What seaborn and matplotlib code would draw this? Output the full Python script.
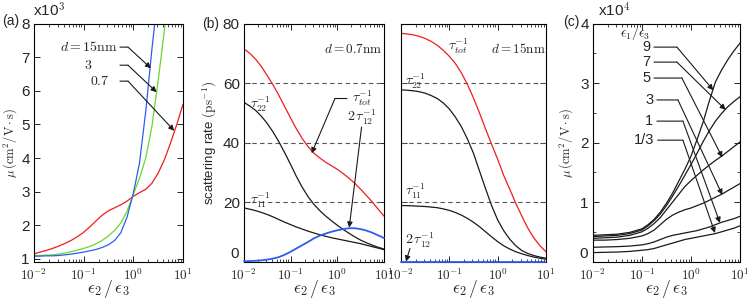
import numpy as np
import pandas as pd
import seaborn as sns
import matplotlib.pyplot as plt
from matplotlib.ticker import FuncFormatter, LogLocator, MultipleLocator, NullFormatter

# ---- data ----
# x positions, eps2/eps3 (1/8 decade steps)
x_grid = [0.01, 0.0133, 0.0178, 0.0237, 0.0316, 0.0422, 0.0562, 0.075, 0.1, 0.133, 0.178,
          0.237, 0.316, 0.422, 0.562, 0.75, 1.0, 1.33, 1.78, 2.37, 3.16, 4.22, 5.62, 7.5, 10.0]

# (a) mobility, units of 10^3 cm^2/Vs
a_d07 = [1.15, 1.2, 1.25, 1.31, 1.38, 1.46, 1.55, 1.66, 1.79, 1.95, 2.13, 2.3, 2.43,
         2.52, 2.61, 2.72, 2.86, 2.97, 3.07, 3.25, 3.55, 3.95, 4.45, 5.0, 5.6]
a_d3 = [1.1, 1.1, 1.11, 1.12, 1.14, 1.17, 1.21, 1.26, 1.31, 1.37, 1.45, 1.55, 1.68,
        1.85, 2.07, 2.42, 2.92, 3.4, 4.0, 4.95, 6.3, 7.8, 9.5, 11.0, 12.5]
a_d15 = [1.08, 1.08, 1.09, 1.09, 1.1, 1.12, 1.14, 1.17, 1.2, 1.24, 1.28, 1.34, 1.42,
         1.55, 1.78, 2.25, 2.95, 3.85, 5.4, 7.25, 8.9, 10.5, 12.0, 13.5, 15.0]

# (b) scattering rates, ps^-1, d = 0.7 nm
b07_tot = [71.5, 70.0, 68.0, 65.5, 62.5, 59.3, 55.8, 52.0, 48.2, 44.6, 41.3, 38.6, 36.4,
           34.8, 33.4, 32.2, 31.0, 29.6, 28.0, 26.3, 24.3, 22.2, 20.0, 17.6, 15.3]
b07_t22 = [53.5, 52.3, 50.8, 48.8, 46.4, 43.5, 40.2, 36.5, 32.6, 28.6, 24.9, 21.8, 19.2,
           17.1, 15.3, 13.7, 12.2, 10.8, 9.5, 8.3, 7.2, 6.3, 5.5, 4.8, 4.2]
b07_t11 = [18.0, 17.6, 17.1, 16.5, 15.8, 15.0, 14.1, 13.2, 12.4, 11.6, 10.9, 10.2, 9.6,
           9.0, 8.5, 8.0, 7.6, 7.2, 6.8, 6.4, 6.0, 5.5, 5.0, 4.5, 4.0]
b07_t12 = [0.1, 0.15, 0.25, 0.4, 0.65, 1.0, 1.5, 2.3, 3.3, 4.4, 5.5, 6.6, 7.8,
           8.7, 9.4, 10.0, 10.5, 10.9, 11.2, 11.2, 10.9, 10.4, 9.7, 8.8, 7.9]

# d = 15 nm
b15_tot = [76.7, 76.5, 76.2, 75.7, 75.0, 74.0, 72.7, 71.0, 69.0, 66.6, 63.4, 59.5, 55.0,
           49.9, 44.6, 39.4, 34.4, 29.0, 24.3, 19.6, 15.3, 11.2, 7.9, 5.3, 3.3]
b15_t22 = [57.7, 57.6, 57.4, 57.1, 56.6, 55.8, 54.8, 53.3, 51.3, 48.6, 45.3, 41.2, 36.4,
           30.4, 24.5, 18.8, 14.0, 10.4, 7.5, 5.3, 3.7, 2.7, 2.0, 1.5, 1.1]
b15_t11 = [18.8, 18.8, 18.7, 18.6, 18.5, 18.3, 18.1, 17.7, 17.2, 16.5, 15.6, 14.5, 13.2,
           11.7, 10.0, 8.3, 6.7, 5.3, 4.2, 3.3, 2.6, 2.0, 1.5, 1.1, 0.8]
b15_t12 = [0.0] * 25

# (c) mobility for several eps1/eps3, units of 10^4 cm^2/Vs
c_x = [0.01, 0.0178, 0.0316, 0.0562, 0.1, 0.133, 0.178, 0.237, 0.316, 0.422, 0.562,
       0.75, 1.0, 1.33, 1.78, 2.37, 3.16, 4.22, 5.62, 7.5, 10.0]
c_ratios = ['9', '7', '5', '3', '1', '1/3']
c_mu = {
    '9':   [0.44, 0.45, 0.46, 0.49, 0.55, 0.62, 0.71, 0.83, 0.98, 1.15, 1.35, 1.55, 1.77,
            2.05, 2.35, 2.7, 3.02, 3.22, 3.39, 3.54, 3.67],
    '7':   [0.42, 0.43, 0.44, 0.47, 0.53, 0.60, 0.69, 0.80, 0.94, 1.10, 1.27, 1.45, 1.63,
            1.82, 2.02, 2.2, 2.36, 2.49, 2.6, 2.69, 2.77],
    '5':   [0.39, 0.40, 0.41, 0.44, 0.50, 0.56, 0.64, 0.74, 0.87, 1.0, 1.13, 1.26, 1.36,
            1.45, 1.54, 1.62, 1.7, 1.77, 1.85, 1.93, 2.01],
    '3':   [0.36, 0.36, 0.37, 0.39, 0.43, 0.47, 0.53, 0.62, 0.71, 0.78, 0.83, 0.87, 0.9,
            0.94, 0.98, 1.03, 1.08, 1.13, 1.19, 1.25, 1.31],
    '1':   [0.24, 0.245, 0.25, 0.26, 0.28, 0.30, 0.33, 0.37, 0.41, 0.44, 0.46, 0.48, 0.5,
            0.52, 0.55, 0.58, 0.62, 0.66, 0.69, 0.72, 0.76],
    '1/3': [0.15, 0.155, 0.16, 0.17, 0.19, 0.20, 0.22, 0.25, 0.28, 0.31, 0.34, 0.37, 0.39,
            0.41, 0.43, 0.45, 0.47, 0.5, 0.53, 0.56, 0.6],
}

RED, GREEN, BLUE, BLACK = '#f01c1c', '#6ad82a', '#2a5ef0', '#1a1a1a'

sns.set_style('ticks')
plt.rcParams['font.family'] = ['Liberation Sans', 'DejaVu Sans']
plt.rcParams['mathtext.fontset'] = 'cm'
plt.rcParams.update({
    'xtick.direction': 'in', 'ytick.direction': 'in',
    'xtick.top': True, 'ytick.right': True,
    'xtick.major.size': 4, 'ytick.major.size': 4,
    'xtick.minor.size': 2, 'ytick.minor.size': 2,
    'xtick.major.width': 0.7, 'ytick.major.width': 0.7,
    'xtick.minor.width': 0.6, 'ytick.minor.width': 0.6,
    'axes.linewidth': 0.8, 'axes.edgecolor': 'black',
    'xtick.labelsize': 9.5, 'ytick.labelsize': 11,
    'xtick.major.pad': 4, 'ytick.major.pad': 3,
})

fig = plt.figure(figsize=(7.47, 3.02), dpi=100)
bot, hgt = 0.134, 0.788
ax_a = fig.add_axes([0.0455, bot, 0.1995, hgt])
ax_b1 = fig.add_axes([0.3266, bot, 0.1874, hgt])
ax_b2 = fig.add_axes([0.5368, bot, 0.1941, hgt])
ax_c = fig.add_axes([0.7938, bot, 0.1968, hgt])

xlab = r'$\epsilon_2\,/\,\epsilon_3$'
mulab = r'$\mu\,(\mathrm{cm^2/V\cdot s})$'
arrow_kw = dict(arrowstyle='-|>', lw=0.8, color=BLACK, mutation_scale=8, shrinkA=0, shrinkB=0)


def log_axis(ax):
    ax.set_xscale('log')
    ax.set_xlim(0.01, 10)
    ax.xaxis.set_major_locator(LogLocator(base=10, numticks=10))
    ax.xaxis.set_minor_locator(LogLocator(base=10, subs=np.arange(2, 10), numticks=10))
    ax.xaxis.set_minor_formatter(NullFormatter())
    ax.xaxis.set_major_formatter(FuncFormatter(lambda v, p: r'$\mathsf{10^{%d}}$' % round(np.log10(v))))
    ax.set_xlabel(xlab, fontsize=12.5, labelpad=-3)


def raised_zero(ax):
    # the "0" label sits a little above its tick in the original
    ax.yaxis.set_major_formatter(FuncFormatter(lambda v, p: '' if v == 0 else f'{v:g}'))
    ax.text(-0.035, 0.03, '0', transform=ax.transAxes, ha='right', va='center', fontsize=11)


def callout(ax, label, txy, x0, x1, target, ha='right', fs=10):
    ax.text(txy[0], txy[1], label, transform=ax.transAxes, ha=ha, va='center', fontsize=fs)
    ax.annotate('', xy=(x1, txy[1]), xytext=(x0, txy[1]), xycoords='axes fraction',
                arrowprops=dict(arrowstyle='-', lw=0.8, color=BLACK, shrinkA=0, shrinkB=0))
    ax.annotate('', xy=target, xycoords='data', xytext=(x1, txy[1]), textcoords='axes fraction',
                arrowprops=arrow_kw)


# ---- (a) ----
da = pd.DataFrame({'x': x_grid, '0.7': a_d07, '3': a_d3, '15': a_d15})
for col, c in [('0.7', RED), ('3', GREEN), ('15', BLUE)]:
    sns.lineplot(data=da, x='x', y=col, ax=ax_a, color=c, lw=0.9)
log_axis(ax_a)
ax_a.set_ylim(0.92, 8)
ax_a.yaxis.set_major_locator(MultipleLocator(1))
ax_a.set_ylabel(mulab, fontsize=9, labelpad=2)
callout(ax_a, r'$d\mathrm{=15nm}$', (0.564, 0.901), 0.577, 0.631, (2.26, 6.67), fs=10)
callout(ax_a, r'$\mathrm{3}$', (0.39, 0.825), 0.577, 0.631, (2.94, 5.96), fs=10)
callout(ax_a, r'$\mathrm{0.7}$', (0.51, 0.758), 0.577, 0.631, (6.65, 4.81), fs=10)
fig.text(33 / 747, 1 - 11 / 302, r'x10$^{\mathsf{3}}$', fontsize=11, va='center')
fig.text(2 / 747, 1 - 21 / 302, '(a)', fontsize=10, va='center')

# ---- (b) ----
for ax, tot, t22, t11, t12 in [(ax_b1, b07_tot, b07_t22, b07_t11, b07_t12),
                              (ax_b2, b15_tot, b15_t22, b15_t11, b15_t12)]:
    db = pd.DataFrame({'x': x_grid, 'tot': tot, 't22': t22, 't11': t11, 't12': t12})
    for yv in (20, 40, 60):
        ax.axhline(yv, color='#555555', lw=0.8, ls=(0, (4, 3)), zorder=1)
    sns.lineplot(data=db, x='x', y='t22', ax=ax, color=BLACK, lw=0.9)
    sns.lineplot(data=db, x='x', y='t11', ax=ax, color=BLACK, lw=0.9)
    sns.lineplot(data=db, x='x', y='tot', ax=ax, color=RED, lw=0.9)
    sns.lineplot(data=db, x='x', y='t12', ax=ax, color=BLUE, lw=1.3)
    ax.lines[-1].set_clip_on(False)
    ax.lines[-1].set_zorder(3)
    log_axis(ax)
    ax.set_ylim(0, 80)
    ax.yaxis.set_major_locator(MultipleLocator(20))

ax_b1.set_ylabel(r'scattering rate $(\mathrm{ps}^{-1})$', fontsize=9.5, labelpad=3)
raised_zero(ax_b1)
ax_b2.set_ylabel('')
ax_b2.set_yticklabels([])

tau_fs = 10
ax_b1.text(0.779, 0.893, r'$d\mathrm{=0.7nm}$', transform=ax_b1.transAxes, ha='center', va='center', fontsize=9.5)
ax_b1.text(0.114, 0.66, r'$\tau_{22}^{\mathsf{-1}}$', transform=ax_b1.transAxes, ha='center', va='center', fontsize=tau_fs)
ax_b1.text(0.114, 0.255, r'$\tau_{11}^{\mathsf{-1}}$', transform=ax_b1.transAxes, ha='center', va='center', fontsize=tau_fs)
callout(ax_b1, r'$\tau_{tot}^{\mathsf{-1}}$', (0.77, 0.685), 0.736, 0.65, (0.282, 36.4), ha='left', fs=tau_fs)
ax_b1.text(0.84, 0.605, r'$2\,\tau_{12}^{\mathsf{-1}}$', transform=ax_b1.transAxes, ha='center', va='center', fontsize=tau_fs)
ax_b1.annotate('', xy=(1.8, 11.4), xycoords='data', xytext=(0.84, 0.565), textcoords='axes fraction',
               arrowprops=arrow_kw)
fig.text(202 / 747, 1 - 24 / 302, '(b)', fontsize=10, va='center')

ax_b2.text(0.393, 0.905, r'$\tau_{tot}^{\mathsf{-1}}$', transform=ax_b2.transAxes, ha='center', va='center', fontsize=tau_fs)
ax_b2.text(0.807, 0.893, r'$d\mathrm{=15nm}$', transform=ax_b2.transAxes, ha='center', va='center', fontsize=9.5)
ax_b2.text(0.10, 0.755, r'$\tau_{22}^{\mathsf{-1}}$', transform=ax_b2.transAxes, ha='center', va='center', fontsize=tau_fs)
ax_b2.text(0.10, 0.295, r'$\tau_{11}^{\mathsf{-1}}$', transform=ax_b2.transAxes, ha='center', va='center', fontsize=tau_fs)
ax_b2.text(0.13, 0.09, r'$2\,\tau_{12}^{\mathsf{-1}}$', transform=ax_b2.transAxes, ha='center', va='center', fontsize=tau_fs)
ax_b2.annotate('', xy=(0.0127, 0.0), xycoords='data', xytext=(0.062, 0.055), textcoords='axes fraction',
               arrowprops=arrow_kw)

# ---- (c) ----
dc = pd.DataFrame({'x': c_x, **c_mu})
for r in c_ratios:
    sns.lineplot(data=dc, x='x', y=r, ax=ax_c, color=BLACK, lw=0.9)
log_axis(ax_c)
ax_c.set_ylim(0, 4)
ax_c.yaxis.set_major_locator(MultipleLocator(1))
ax_c.yaxis.set_minor_locator(MultipleLocator(0.5))
raised_zero(ax_c)
ax_c.set_ylabel(mulab, fontsize=9, labelpad=4)
ax_c.text(0.286, 0.96, r'$\epsilon_1/\epsilon_3$', transform=ax_c.transAxes, ha='center', va='center', fontsize=10)
c_calls = [('9', 0.901, 0.415, 0.571, (2.85, 2.88)),
           ('7', 0.838, 0.415, 0.571, (5.1, 2.55)),
           ('5', 0.771, 0.415, 0.605, (4.36, 1.75)),
           ('3', 0.679, 0.435, 0.578, (4.36, 1.12)),
           ('1', 0.590, 0.435, 0.612, (3.9, 0.65)),
           ('1/3', 0.510, 0.44, 0.612, (3.09, 0.48))]
for lab, fy, x0, x1, tgt in c_calls:
    callout(ax_c, lab, (x0 - 0.025, fy), x0, x1, tgt, fs=10.5)
fig.text(598 / 747, 1 - 11 / 302, r'x10$^{\mathsf{4}}$', fontsize=11, va='center')
fig.text(563 / 747, 1 - 22 / 302, '(c)', fontsize=10, va='center')

fig.savefig('out.png', dpi=100)
